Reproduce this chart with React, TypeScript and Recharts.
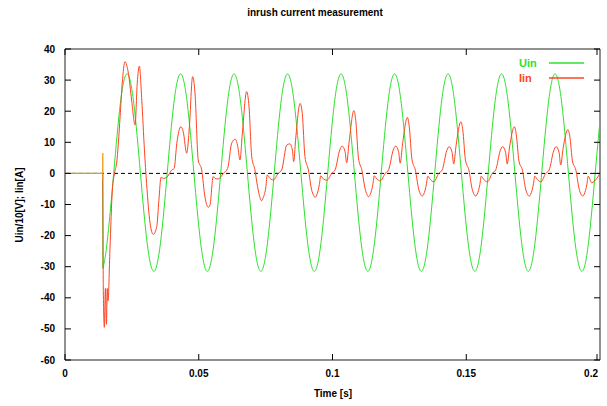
import React from "react";
import {
  LineChart,
  Line,
  XAxis,
  YAxis,
  ReferenceLine,
  ReferenceArea,
  Legend,
} from "recharts";

const W = 607;
const H = 406;
const PLOT = { left: 65, right: 600, top: 49, bottom: 360 };
const FONT = '"Liberation Sans", Arial, Helvetica, sans-serif';
const GREEN = "#2fe02f";
const RED = "#ff4420";
const ORANGE = "#f0a020";

const xTicks = [0, 0.05, 0.1, 0.15, 0.2];
const yTicks = [-60, -50, -40, -30, -20, -10, 0, 10, 20, 30, 40];

// Uin/10 before the switch, then the jump at switch-on
const uinPreTimes = [0, 0.0141, 0.01415];
const uinPreValues = [0, 0, -30.5];

// Uin/10 after switch-on, read every 2.5 ms starting at 15.7 ms
const uinStart = 0.0157;
const uinStep = 0.0025;
const uinValues = [
  -22.6, 0, 22.6, 32, 22.6, 0, -22.3, -31.5,
  -22.3, 0, 22.6, 32, 22.6, 0, -22.3, -31.5,
  -22.3, 0, 22.6, 32, 22.6, 0, -22.3, -31.5,
  -22.3, 0, 22.6, 32, 22.6, 0, -22.3, -31.5,
  -22.3, 0, 22.6, 32, 22.6, 0, -22.3, -31.5,
  -22.3, 0, 22.6, 32, 22.6, 0, -22.3, -31.5,
  -22.3, 0, 22.6, 32, 22.6, 0, -22.3, -31.5,
  -22.3, 0, 22.6, 32, 22.6, 0, -22.3, -31.5,
  -22.3, 0, 22.6, 32, 22.6, 0, -22.3, -31.5,
  -22.3, 0,
];
const uinEndTime = 0.2;
const uinEndValue = 17;

// switching spike (drawn orange)
const spikeTimes = [0, 0.0141, 0.01412, 0.01415];
const spikeValues = [0, 0, 6.5, -2];

// Iin
const iinTimes = [
  0, 0.0141, 0.0142, 0.0143, 0.0147, 0.0151, 0.0155, 0.0158, 0.0161, 0.0168,
  0.0177, 0.0185, 0.0193, 0.0206, 0.0214, 0.0224, 0.0237, 0.0249, 0.0262, 0.027,
  0.0278, 0.0287, 0.0297, 0.0305, 0.0318, 0.033, 0.0343, 0.0351, 0.0359,
  0.0368, 0.038, 0.0399, 0.0408, 0.0418, 0.0433, 0.0442, 0.0455, 0.0465, 0.0477,
  0.0486, 0.0498, 0.0511, 0.0523, 0.0536,
  0.0542, 0.0554, 0.0561, 0.0573, 0.0592, 0.0608, 0.0623, 0.0636, 0.0646, 0.0654,
  0.0663, 0.0679, 0.0688, 0.0698, 0.071, 0.072, 0.0729, 0.0735, 0.0741, 0.0751, 0.0756,
  0.0766, 0.0779, 0.0797, 0.081, 0.0829, 0.0841, 0.085, 0.0855, 0.0862, 0.0879,
  0.0887, 0.0897, 0.091, 0.0922, 0.0929, 0.0935, 0.0941, 0.0951, 0.0956,
  0.0966, 0.0979, 0.0997, 0.101, 0.1027, 0.1036, 0.1047, 0.1053, 0.1062, 0.108,
  0.1087, 0.1097, 0.111, 0.1122, 0.1129, 0.1135, 0.1141, 0.1151, 0.1156,
  0.1166, 0.1179, 0.1197, 0.121, 0.1227, 0.1236, 0.1247, 0.1253, 0.1262, 0.128,
  0.1287, 0.1297, 0.131, 0.1322, 0.1329, 0.1335, 0.1341, 0.1351, 0.1356,
  0.1366, 0.1379, 0.1397, 0.141, 0.1427, 0.1436, 0.1447, 0.1453, 0.1462, 0.148,
  0.1487, 0.1497, 0.151, 0.1522, 0.1529, 0.1535, 0.1541, 0.1551, 0.1556,
  0.1566, 0.1579, 0.1597, 0.161, 0.1627, 0.1636, 0.1647, 0.1653, 0.1662, 0.168,
  0.1687, 0.1697, 0.171, 0.1722, 0.1729, 0.1735, 0.1741, 0.1751, 0.1756,
  0.1766, 0.1779, 0.1797, 0.181, 0.1827, 0.1836, 0.1847, 0.1853, 0.1862, 0.188,
  0.1887, 0.1897, 0.191, 0.1922, 0.1929, 0.1935, 0.1941, 0.1951, 0.1956,
  0.1969, 0.1988, 0.2,
];
const iinValues = [
  0, 0, -14, -36, -49.5, -37, -48.5, -37, -41, -24.6,
  -5.3, 0, 3.3, 18.2, 29, 35.9, 32.2, 23.6, 15.6, 29,
  34.5, 23.6, 7.5, -3.2, -16, -19.6, -17.1, -8.6, -1.3,
  -1.6, -1.3, 1.1, 1.6, 9.7, 15, 13.4, 6.5, 15, 31.1,
  25.8, 4.3, 1.1, -7.5, -10.9,
  -10.2, -1.0, -1.6, -1.8, 0, 1.6, 9.7, 11, 8.6, 4.3,
  12.9, 26.3, 21.4, 5.4, 1.1, -4.3, -7.8, -8.8, -7.8, -4.3, -0.5,
  -1.6, -2.1, 0, 1.1, 9.1, 9.5, 7.5, 3.8, 10.7, 22.5,
  19.3, 5.4, 1.1, -5.3, -7, -7.7, -7, -3.5, -0.8,
  -1.8, -2.2, 0, 1.2, 7.5, 8.8, 7, 3.4, 10, 20.2,
  17, 5, 1, -5, -6.8, -7.5, -6.8, -3.5, -0.8,
  -1.8, -2.4, 0, 1.2, 7.5, 8.8, 7, 3.3, 9.5, 18,
  15, 4.5, 1, -5, -6.7, -7.3, -6.7, -3.5, -0.9,
  -2, -2.7, 0, 1.1, 7.3, 8.6, 6.8, 3.0, 9, 16.6,
  14, 4.3, 1, -5, -6.7, -7.3, -6.7, -3.5, -0.9,
  -2, -2.7, 0, 1.1, 7.3, 8.6, 6.8, 3.0, 8.5, 15,
  12.5, 4, 1, -5, -6.7, -7.3, -6.7, -3.5, -0.9,
  -2, -2.7, 0, 1.1, 7.3, 8.6, 6.8, 2.7, 8, 14.1,
  12, 4, 1, -5, -6.7, -7.3, -6.7, -3.5, -0.9,
  -3, -1.6, 0,
];

const zip = (ts: number[], vs: number[]) => ts.map((t, i) => ({ t, v: vs[i] }));

const uinPreData = zip(uinPreTimes, uinPreValues);
const uinData = [
  { t: uinPreTimes[2], v: uinPreValues[2] },
  ...uinValues.map((v, i) => ({ t: uinStart + i * uinStep, v })),
  { t: uinEndTime, v: uinEndValue },
];
const spikeData = zip(spikeTimes, spikeValues);
const iinData = zip(iinTimes, iinValues);

function XTick(props: any) {
  const { x, payload } = props;
  const v = payload.value;
  const last = v === 0.2;
  return (
    <g>
      <line x1={x} x2={x} y1={PLOT.bottom} y2={PLOT.bottom - 6} stroke="#000" />
      <line x1={x} x2={x} y1={PLOT.top} y2={PLOT.top + 6} stroke="#000" />
      <text
        x={last ? x + 1 : x}
        y={PLOT.bottom + 17}
        textAnchor={last ? "end" : "middle"}
        fontFamily={FONT}
        fontWeight="bold"
        fontSize={10}
        fill="#000"
      >
        {String(v)}
      </text>
    </g>
  );
}

function YTick(props: any) {
  const { y, payload } = props;
  return (
    <g>
      <line x1={PLOT.left} x2={PLOT.left + 6} y1={y} y2={y} stroke="#000" />
      <line x1={PLOT.right - 6} x2={PLOT.right} y1={y} y2={y} stroke="#000" />
      <text
        x={PLOT.left - 10}
        y={y + 3.5}
        textAnchor="end"
        fontFamily={FONT}
        fontWeight="bold"
        fontSize={10}
        fill="#000"
      >
        {payload.value}
      </text>
    </g>
  );
}

function KeyBox() {
  return (
    <svg width={W} height={90} style={{ position: "absolute", left: 0, top: 0, overflow: "visible" }}>
      <text x={519} y={67} fontFamily={FONT} fontWeight="bold" fontSize={11} fill={GREEN}>
        Uin
      </text>
      <line x1={549} x2={584} y1={63} y2={63} stroke={GREEN} strokeWidth={1.5} />
      <text x={519} y={82} fontFamily={FONT} fontWeight="bold" fontSize={11} fill={RED}>
        Iin
      </text>
      <line x1={549} x2={584} y1={78} y2={78} stroke={RED} strokeWidth={1.5} />
    </svg>
  );
}

export default function App() {
  return (
    <div style={{ position: "absolute", left: 0, top: 0, width: W, height: H, background: "#fff" }}>
      <div
        style={{
          position: "absolute",
          left: 215,
          top: 7,
          width: 200,
          textAlign: "center",
          fontFamily: FONT,
          fontWeight: "bold",
          fontSize: 10,
          lineHeight: "12px",
        }}
      >
        inrush current measurement
      </div>
      <LineChart width={W} height={H} margin={{ top: PLOT.top, right: W - PLOT.right, left: 0, bottom: 0 }}>
        <XAxis
          type="number"
          dataKey="t"
          domain={[0, 0.2]}
          ticks={xTicks}
          allowDataOverflow
          height={H - PLOT.bottom}
          axisLine={false}
          tickLine={false}
          tick={<XTick />}
          label={() => (
            <text x={333} y={397} textAnchor="middle" fontFamily={FONT} fontWeight="bold" fontSize={10} fill="#000">
              Time [s]
            </text>
          )}
        />
        <YAxis
          type="number"
          domain={[-60, 40]}
          ticks={yTicks}
          allowDataOverflow
          width={PLOT.left}
          axisLine={false}
          tickLine={false}
          tick={<YTick />}
          label={() => (
            <text
              x={23}
              y={205}
              transform="rotate(-90 23 205)"
              textAnchor="middle"
              fontFamily={FONT}
              fontWeight="bold"
              fontSize={10}
              fill="#000"
            >
              Uin/10[V]; Iin[A]
            </text>
          )}
        />
        <ReferenceArea x1={0} x2={0.2} y1={-60} y2={40} fill="none" stroke="#222" strokeWidth={1} />
        <ReferenceLine y={0} stroke="#000" strokeDasharray="4 3" />
        <Line
          data={uinPreData}
          dataKey="v"
          type="linear"
          stroke={GREEN}
          strokeWidth={1}
          dot={false}
          activeDot={false}
          legendType="none"
          isAnimationActive={false}
        />
        <Line
          data={uinData}
          dataKey="v"
          name="Uin"
          type="natural"
          stroke={GREEN}
          strokeWidth={1}
          dot={false}
          activeDot={false}
          isAnimationActive={false}
        />
        <Line
          data={iinData}
          dataKey="v"
          name="Iin"
          type="monotone"
          stroke={RED}
          strokeWidth={1}
          dot={false}
          activeDot={false}
          isAnimationActive={false}
        />
        <Line
          data={spikeData}
          dataKey="v"
          type="linear"
          stroke={ORANGE}
          strokeWidth={1}
          dot={false}
          activeDot={false}
          legendType="none"
          isAnimationActive={false}
        />
        <Legend
          layout="vertical"
          verticalAlign="middle"
          align="center"
          wrapperStyle={{ left: 0, top: 0, width: W, height: 0 }}
          content={() => <KeyBox />}
        />
      </LineChart>
    </div>
  );
}
